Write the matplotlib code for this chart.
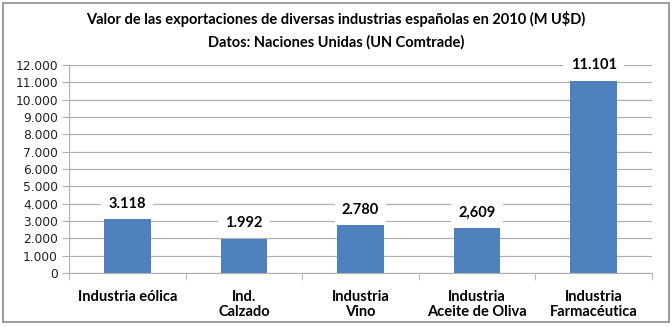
import matplotlib.pyplot as plt
from matplotlib.patches import Rectangle
from matplotlib.ticker import FixedLocator, FuncFormatter

industrias = ["Industria eólica", "Ind.\nCalzado", "Industria\nVino",
              "Industria\nAceite de Oliva", "Industria\nFarmacéutica"]
valores = [3118, 1992, 2780, 2609, 11101]
etiquetas = ["3.118", "1.992", "2.780", "2,609", "11.101"]
y_ticks = list(range(0, 13000, 1000))

BAR = "#4f81bd"
GRID = "#b0b0b0"
TITLE_FONT = ["Lato", "DejaVu Sans"]

fig = plt.figure(figsize=(6.72, 3.27), dpi=100)
ax = fig.add_axes([0.1027, 0.165, 0.8675, 0.636])

x = list(range(len(valores)))
ax.bar(x, valores, width=0.4, color=BAR, zorder=2)

for xi, v, lab in zip(x, valores, etiquetas):
    ax.annotate(lab, (xi, v), xytext=(0, 11), textcoords="offset points",
                ha="center", va="center", fontsize=10.5, fontweight="bold",
                family=TITLE_FONT, zorder=3,
                bbox=dict(boxstyle="square,pad=0.5", fc="white", ec="none"))

ax.set_xlim(-0.5, len(valores) - 0.5)
ax.set_ylim(0, 12000)
ax.yaxis.set_major_locator(FixedLocator(y_ticks))
ax.yaxis.set_major_formatter(FuncFormatter(lambda v, p: f"{int(v):,}".replace(",", ".")))
ax.grid(axis="y", color=GRID, linewidth=0.9, zorder=0)
ax.set_axisbelow(True)

ax.set_xticks(x)
ax.set_xticklabels(industrias, fontsize=10.5, fontweight="bold", family=TITLE_FONT,
                   linespacing=1.1, va="top")
ax.set_xticks([i - 0.5 for i in range(len(valores) + 1)], minor=True)
ax.tick_params(axis="x", which="major", length=0, pad=12)
ax.tick_params(axis="x", which="minor", length=5, color=GRID)
ax.tick_params(axis="y", length=5, color=GRID, labelsize=8.8, labelcolor="#222222", pad=3)

for s in ["top", "right"]:
    ax.spines[s].set_visible(False)
for s in ["left", "bottom"]:
    ax.spines[s].set_color(GRID)

fig.text(0.5, 0.942, "Valor de las exportaciones de diversas industrias españolas en 2010 (M U$D)",
         ha="center", va="center", fontsize=10.5, fontweight="bold", family=TITLE_FONT)
fig.text(0.5, 0.872, "Datos: Naciones Unidas (UN Comtrade)",
         ha="center", va="center", fontsize=10.5, fontweight="bold", family=TITLE_FONT)

fig.add_artist(Rectangle((3 / 672, 5 / 327), 666 / 672, 319 / 327, transform=fig.transFigure,
                         fill=False, ec="#8c8c8c", lw=1.2))

fig.savefig("out.png", dpi=100)
